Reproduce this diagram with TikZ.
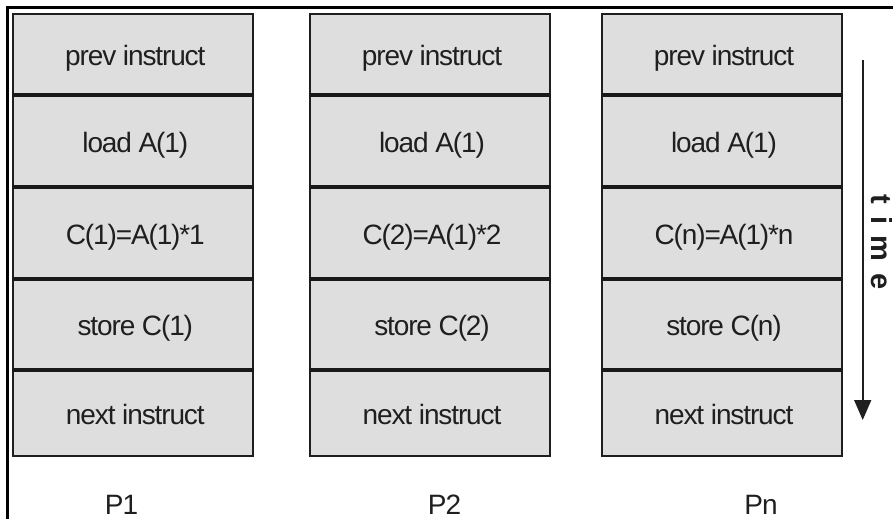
\documentclass[tikz,border=0pt]{standalone}
\usepackage{fontspec}
\setmainfont{Liberation Sans}
\newfontfamily\cellfont[LetterSpace=-4]{Liberation Sans}
\newfontfamily\timefont[LetterSpace=40]{Liberation Sans}
\usetikzlibrary{arrows.meta}

\tikzset{
  cellbox/.style={draw=black!88, line width=2.2pt, fill=black!13,
    minimum width=240pt, inner sep=0pt, text height=24pt, text depth=0pt,
    font=\cellfont\fontsize{28}{30}\selectfont, text=black!88},
  divider/.style={draw=black!90, line width=3.4pt},
  frameline/.style={draw=black, line width=3pt},
  proclabel/.style={anchor=base, inner sep=0pt,
    font=\cellfont\fontsize{28}{30}\selectfont, text=black!88},
  timearrow/.style={draw=black!88, line width=1.6pt,
    -{Triangle[length=20pt,width=17pt]}},
  timelabel/.style={rotate=-90, anchor=base, inner sep=0pt,
    font=\timefont\bfseries\fontsize{29}{31}\selectfont, text=black!88}
}

\begin{document}
\begin{tikzpicture}[x=1pt,y=-1pt]
  \useasboundingbox (0,0) rectangle (893,519);

  % partial outer frame: left and top edges
  \coordinate (fbl) at (7.3,519);
  \coordinate (ftl) at (7.3,7.3);
  \coordinate (ftr) at (893,7.3);
  \draw[frameline] (fbl) -- (ftl) -- (ftr);

  % one column of instruction cells per processor
  \foreach \k/\cx/\n in {1/133.3/1, 2/430/2, 3/722/n} {
    \foreach \r/\top/\bot/\txt in {
        1/14/94/prev instruct,
        2/94/186/load A(1),
        3/186/278/C(\n)=A(1)*\n,
        4/278/369/store C(\n),
        5/369/456/next instruct} {
      \pgfmathsetmacro{\cy}{(\top+\bot)/2}
      \pgfmathsetmacro{\ch}{\bot-\top}
      \node[cellbox, minimum height=\ch pt] (c\k-\r) at (\cx,\cy)
        {\hspace*{4pt}\txt};
    }
    \foreach \r in {1,2,3,4} {
      \draw[divider] (c\k-\r.south west) -- (c\k-\r.south east);
    }
  }

  % processor names
  \node[proclabel] (p1) at (121.5,514) {P1};
  \node[proclabel] (p2) at (444.5,514) {P2};
  \node[proclabel] (pn) at (761,514) {Pn};

  % time axis
  \coordinate (tstart) at (862.7,60);
  \coordinate (tend) at (862.7,420);
  \draw[timearrow] (tstart) -- (tend);
  \node[timelabel] (tlabel) at (871.5,242) {time};
\end{tikzpicture}
\end{document}
